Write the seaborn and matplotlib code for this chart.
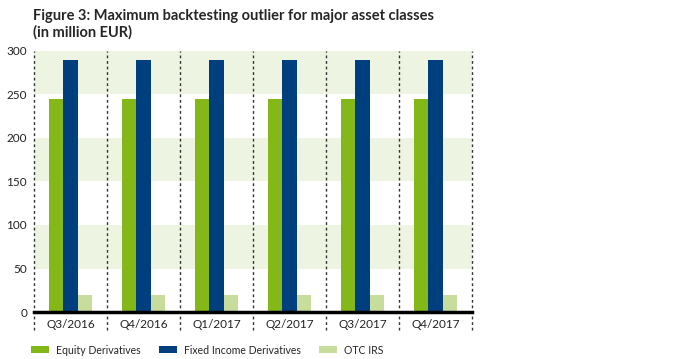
import matplotlib
matplotlib.use("Agg")
import matplotlib.pyplot as plt
import seaborn as sns
import pandas as pd
from matplotlib.patches import Patch

quarters = ["Q3/2016", "Q4/2016", "Q1/2017", "Q2/2017", "Q3/2017", "Q4/2017"]
equity = [245, 245, 245, 245, 245, 245]
fixed_income = [290, 290, 290, 290, 290, 290]
otc_irs = [20, 20, 20, 20, 20, 20]
series = ["Equity Derivatives", "Fixed Income Derivatives", "OTC IRS"]
colors = ["#84b819", "#003f7d", "#c8dd9c"]
yticks = [0, 50, 100, 150, 200, 250, 300]

df = pd.DataFrame({
    "quarter": quarters * 3,
    "series": [series[0]] * 6 + [series[1]] * 6 + [series[2]] * 6,
    "value": equity + fixed_income + otc_irs,
})

sns.set_style("white")
plt.rcParams["font.family"] = ["Lato", "DejaVu Sans"]

fig = plt.figure(figsize=(7, 3.59), dpi=100)
ax = fig.add_axes([0.0486, 0.1309, 0.6257, 0.7271])

# alternating light green bands
for lo in (50, 150, 250):
    ax.axhspan(lo, lo + 50, color="#eef4e2", zorder=0, lw=0)

sns.barplot(data=df, x="quarter", y="value", hue="series", palette=colors,
            saturation=1, width=0.6, gap=0, ax=ax, legend=False, zorder=3,
            edgecolor="none", linewidth=0)

for i in range(len(quarters) + 1):
    ax.axvline(i - 0.5, ymin=-0.07, ymax=1, color="#333333", lw=1,
               ls=(0, (2, 2)), clip_on=False, zorder=4)

ax.set_xlim(-0.5, len(quarters) - 0.5)
ax.set_ylim(0, 300)
ax.set_yticks(yticks)
ax.set_xlabel("")
ax.set_ylabel("")
ax.tick_params(axis="both", length=0, labelsize=8.5, colors="#222222")
ax.tick_params(axis="x", pad=5)
ax.tick_params(axis="y", pad=5)
for s in ("top", "right", "left"):
    ax.spines[s].set_visible(False)
ax.spines["bottom"].set_color("black")
ax.spines["bottom"].set_linewidth(2.5)
ax.spines["bottom"].set_zorder(5)

fig.text(0.047, 0.975, "Figure 3: Maximum backtesting outlier for major asset classes\n(in million EUR)",
         fontsize=10.5, fontweight="bold", va="top", ha="left", linespacing=1.15)

handles = [Patch(facecolor=c, edgecolor="none", label=l) for c, l in zip(colors, series)]
fig.legend(handles=handles, loc="center left", bbox_to_anchor=(0.031, 0.025), ncol=3,
           frameon=False, fontsize=7.6, handlelength=1.7, handleheight=0.6,
           columnspacing=1.75, handletextpad=0.65)

fig.savefig("out.png", dpi=100)
